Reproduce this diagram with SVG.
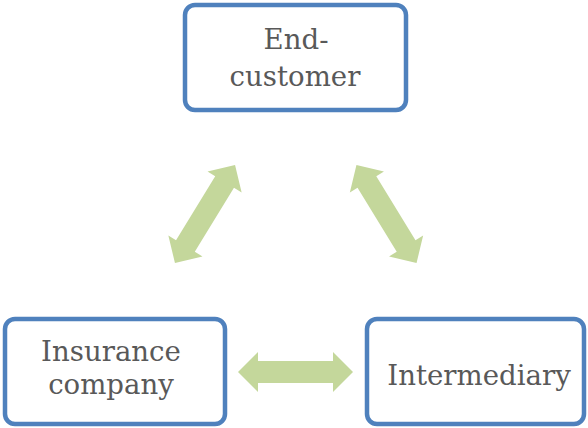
<svg xmlns="http://www.w3.org/2000/svg" width="588" height="428" viewBox="0 0 588 428">
  <defs>
    <style>
      .box { fill: #ffffff; stroke: #4F81BD; stroke-width: 4.5; }
      .label { font-family: "DejaVu Serif", "Liberation Serif", serif; font-size: 27.6px; fill: #595959; text-anchor: middle; }
      .arrow { fill: #C4D79B; }
    </style>
    <!-- double-headed block arrow, centred on the origin along the x axis -->
    <polygon id="dblArrow" points="-57.5,0 -37.5,-20 -37.5,-11 37.5,-11 37.5,-20 57.5,0 37.5,20 37.5,11 -37.5,11 -37.5,20"/>
  </defs>
  <rect width="588" height="428" fill="#ffffff"/>

  <g id="connectors">
    <use href="#dblArrow" class="arrow" transform="translate(205,214) rotate(-58.5)"/>
    <use href="#dblArrow" class="arrow" transform="translate(386.5,214) rotate(58.5)"/>
    <use href="#dblArrow" class="arrow" transform="translate(295.5,372)"/>
  </g>

  <g id="end-customer">
    <rect class="box" x="185" y="5" width="221" height="105" rx="10"/>
    <text class="label" x="296" y="49">End-</text>
    <text class="label" x="295" y="86">customer</text>
  </g>

  <g id="insurance-company">
    <rect class="box" x="5" y="319" width="220" height="105" rx="10"/>
    <text class="label" x="111" y="361">Insurance</text>
    <text class="label" x="111" y="394">company</text>
  </g>

  <g id="intermediary">
    <rect class="box" x="367" y="319" width="217" height="105" rx="10"/>
    <text class="label" x="479" y="385">Intermediary</text>
  </g>
</svg>
